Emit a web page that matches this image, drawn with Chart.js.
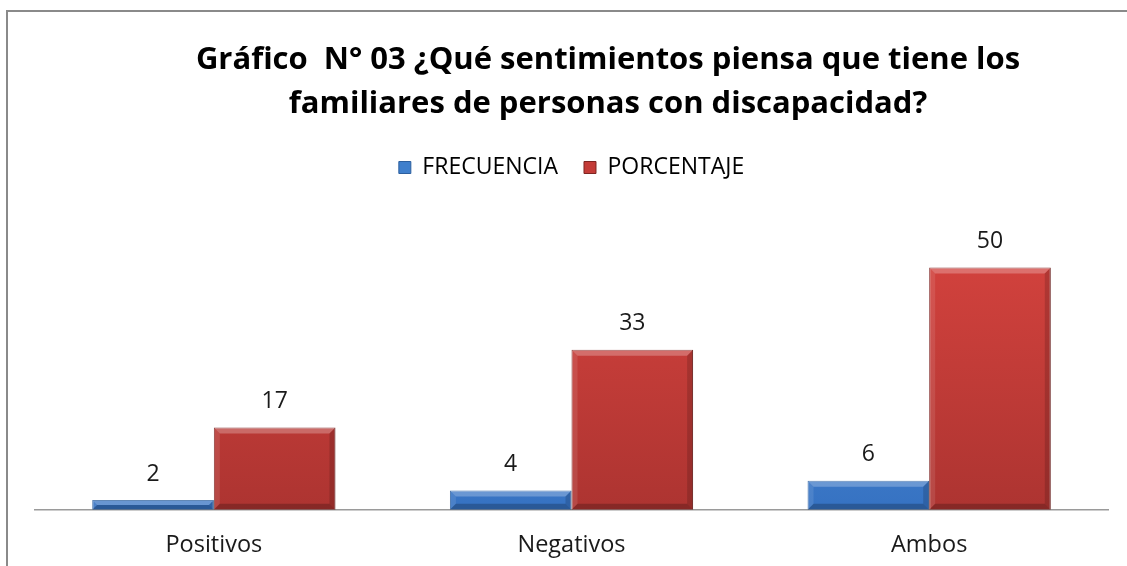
<!DOCTYPE html>
<html>
<head>
<meta charset="utf-8">
<script src="https://cdn.jsdelivr.net/npm/chart.js@4.4.1/dist/chart.umd.min.js"></script>
<style>
  html, body { margin: 0; padding: 0; background: #fff; }
  #wrap { position: relative; width: 1127px; height: 566px; overflow: hidden; }
  #frame { position: absolute; left: 6px; top: 10px; width: 1200px; height: 600px;
           border-left: 2px solid #8a8a8a; border-top: 2px solid #8a8a8a; }
  canvas { position: absolute; left: 0; top: 0; }
</style>
</head>
<body>
<div id="wrap">
  <div id="frame"></div>
  <canvas id="chart" width="1127" height="566"></canvas>
</div>
<script>
const titleLines = ["Gráfico  N° 03 ¿Qué sentimientos piensa que tiene los",
                    "familiares de personas con discapacidad?"];
const categories = ["Positivos", "Negativos", "Ambos"];
const frecuencia = [2, 4, 6];
const porcentaje = [17, 33, 50];

const FONT = "'Open Sans', 'Noto Sans', sans-serif";

function barGradient(ctx, top, mid, bottom) {
  const area = ctx.chart.chartArea;
  if (!area) return mid;
  const g = ctx.chart.ctx.createLinearGradient(0, area.top, 0, area.bottom);
  g.addColorStop(0, top);
  g.addColorStop(1, bottom);
  return g;
}

// title drawn centred over the (wider, cropped) chart frame
const titlePlugin = {
  id: "titleText",
  afterDraw(chart) {
    const c = chart.ctx;
    c.save();
    c.fillStyle = "#000";
    c.font = "bold 31px " + FONT;
    c.textAlign = "center";
    c.textBaseline = "alphabetic";
    c.fillText(titleLines[0], 608, 69);
    c.fillText(titleLines[1], 608, 113);
    c.restore();
  }
};

// extra space between legend and plot
const legendGap = {
  id: "legendGap",
  beforeInit(chart) {
    const fit = chart.legend.fit;
    chart.legend.fit = function () {
      fit.bind(chart.legend)();
      this.height += 30;
    };
  }
};

// bevel edges + value labels
const bevelPlugin = {
  id: "bevel",
  afterDatasetsDraw(chart) {
    const c = chart.ctx;
    chart.data.datasets.forEach((ds, di) => {
      const meta = chart.getDatasetMeta(di);
      meta.data.forEach((bar, i) => {
        const x0 = bar.x - bar.width / 2, x1 = bar.x + bar.width / 2;
        const y0 = bar.y, y1 = bar.base;
        const b = Math.min(6, (y1 - y0) / 2);
        c.save();
        c.fillStyle = "rgba(255,255,255,0.25)";
        c.beginPath();
        c.moveTo(x0, y0); c.lineTo(x1, y0); c.lineTo(x1 - b, y0 + b); c.lineTo(x0 + b, y0 + b);
        c.closePath(); c.fill();
        c.fillStyle = "rgba(255,255,255,0.10)";
        c.beginPath();
        c.moveTo(x0, y0); c.lineTo(x0 + b, y0 + b); c.lineTo(x0 + b, y1 - b); c.lineTo(x0, y1);
        c.closePath(); c.fill();
        c.fillStyle = "rgba(0,0,0,0.15)";
        c.beginPath();
        c.moveTo(x1, y0); c.lineTo(x1 - b, y0 + b); c.lineTo(x1 - b, y1 - b); c.lineTo(x1, y1);
        c.closePath(); c.fill();
        c.fillStyle = "rgba(0,0,0,0.22)";
        c.beginPath();
        c.moveTo(x0, y1); c.lineTo(x0 + b, y1 - b); c.lineTo(x1 - b, y1 - b); c.lineTo(x1, y1);
        c.closePath(); c.fill();
        c.restore();

        c.save();
        c.fillStyle = "#1a1a1a";
        c.font = "23px " + FONT;
        c.textAlign = "center";
        c.textBaseline = "middle";
        c.fillText(String(ds.data[i]), bar.x, y0 - 26);
        c.restore();
      });
    });
  }
};

new Chart(document.getElementById("chart"), {
  type: "bar",
  data: {
    labels: categories,
    datasets: [
      {
        label: "FRECUENCIA",
        data: frecuencia,
        backgroundColor: ctx => barGradient(ctx, "#5a9be2", "#4a88d4", "#3672c2"),
        borderColor: "#2c5f9e",
        borderWidth: 1,
        legendColor: "#3f7fcc"
      },
      {
        label: "PORCENTAJE",
        data: porcentaje,
        backgroundColor: ctx => barGradient(ctx, "#d8443f", "#cf403c", "#ad3431"),
        borderColor: "#7e2522",
        borderWidth: 1,
        legendColor: "#c43c38"
      }
    ]
  },
  options: {
    responsive: false,
    animation: false,
    layout: { padding: { left: 35, right: 19, top: 130, bottom: -14 } },
    datasets: { bar: { categoryPercentage: 0.68, barPercentage: 1.0 } },
    plugins: {
      title: { display: false },
      tooltip: { enabled: false },
      legend: {
        position: "top",
        labels: {
          font: { family: FONT, size: 23 },
          color: "#1a1a1a",
          boxWidth: 12,
          boxHeight: 12,
          padding: 26,
          generateLabels(chart) {
            return chart.data.datasets.map((ds, i) => ({
              text: ds.label,
              fillStyle: ds.legendColor,
              strokeStyle: ds.borderColor,
              lineWidth: 1,
              datasetIndex: i
            }));
          }
        }
      }
    },
    scales: {
      x: {
        grid: { display: false, drawTicks: false },
        border: { display: true, color: "#9a9a9a", width: 1.5 },
        ticks: { font: { family: FONT, size: 23.5 }, color: "#1a1a1a", padding: 21 }
      },
      y: {
        display: false,
        min: 0,
        max: 60
      }
    }
  },
  plugins: [titlePlugin, legendGap, bevelPlugin]
});
</script>
</body>
</html>
